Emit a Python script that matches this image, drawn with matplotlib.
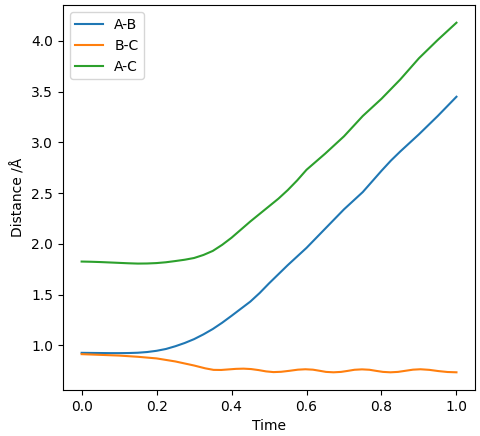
import numpy as np
import matplotlib
matplotlib.use("Agg")
import matplotlib.pyplot as plt

# values, every 0.025 in time
time = [0.0, 0.025, 0.05, 0.075, 0.10, 0.125, 0.15, 0.175, 0.20, 0.225,
        0.25, 0.275, 0.30, 0.325, 0.35, 0.375, 0.40, 0.425, 0.45, 0.475,
        0.50, 0.525, 0.55, 0.575, 0.60, 0.625, 0.65, 0.675, 0.70, 0.725,
        0.75, 0.775, 0.80, 0.825, 0.85, 0.875, 0.90, 0.925, 0.95, 0.975, 1.0]
ab = [0.925, 0.924, 0.923, 0.922, 0.922, 0.923, 0.926, 0.933, 0.945, 0.963,
      0.99, 1.022, 1.06, 1.107, 1.16, 1.222, 1.29, 1.36, 1.43, 1.515,
      1.61, 1.70, 1.79, 1.875, 1.96, 2.055, 2.15, 2.245, 2.34, 2.425,
      2.51, 2.615, 2.72, 2.82, 2.91, 2.995, 3.08, 3.17, 3.26, 3.355, 3.45]
ac = [1.825, 1.823, 1.82, 1.816, 1.812, 1.808, 1.805, 1.806, 1.81, 1.818,
      1.83, 1.843, 1.86, 1.89, 1.93, 1.99, 2.06, 2.14, 2.22, 2.295,
      2.37, 2.445, 2.53, 2.625, 2.73, 2.81, 2.89, 2.975, 3.06, 3.16,
      3.26, 3.345, 3.43, 3.525, 3.62, 3.725, 3.83, 3.92, 4.01, 4.095, 4.18]

# B-C oscillates, so it was read more densely around its peaks and troughs
time_bc = [0.0, 0.05, 0.10, 0.15, 0.20, 0.25, 0.30, 0.33, 0.352, 0.372,
           0.39, 0.412, 0.432, 0.452, 0.472, 0.492, 0.512, 0.532, 0.555,
           0.577, 0.597, 0.617, 0.635, 0.652, 0.672, 0.692, 0.71, 0.728,
           0.748, 0.768, 0.786, 0.804, 0.824, 0.844, 0.864, 0.884, 0.904,
           0.928, 0.952, 0.976, 1.0]
bc = [0.912, 0.905, 0.898, 0.886, 0.87, 0.84, 0.80, 0.772, 0.757, 0.756,
      0.761, 0.767, 0.769, 0.765, 0.755, 0.742, 0.735, 0.738, 0.748,
      0.759, 0.763, 0.759, 0.748, 0.737, 0.733, 0.737, 0.747, 0.758,
      0.762, 0.758, 0.747, 0.737, 0.733, 0.737, 0.748, 0.759, 0.763,
      0.757, 0.745, 0.736, 0.733]

fig, ax = plt.subplots(figsize=(4.8, 4.36), dpi=100)
fig.subplots_adjust(left=0.131, right=0.990, top=0.988, bottom=0.106)

ax.plot(time, ab, label="A-B")
ax.plot(time_bc, bc, label="B-C")
ax.plot(time, ac, label="A-C")

ax.set_xlabel("Time")
ax.set_ylabel("Distance /Å")
ax.legend(loc="upper left")

fig.savefig("out.png", dpi=100)
